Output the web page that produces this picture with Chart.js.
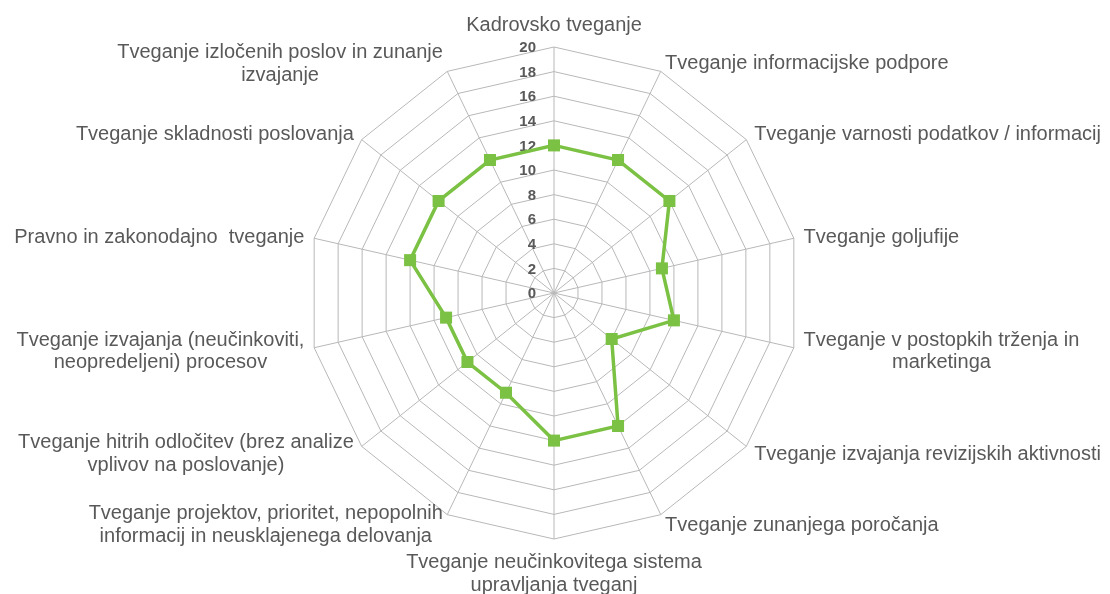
<!DOCTYPE html>
<html>
<head>
<meta charset="utf-8">
<script src="https://cdn.jsdelivr.net/npm/chart.js@4"></script>
<style>
    html, body { margin: 0; padding: 0; background: #ffffff; }
    #wrap { width: 1110px; height: 594px; position: relative; }
</style>
</head>
<body>
<div id="wrap"><canvas id="riskChart"></canvas></div>
<script>
// Categories (multi-line labels as arrays)
const categories = [
    ['Kadrovsko tveganje'],
    ['Tveganje informacijske podpore'],
    ['Tveganje varnosti podatkov / informacij'],
    ['Tveganje goljufije'],
    ['Tveganje v postopkih trženja in', 'marketinga'],
    ['Tveganje izvajanja revizijskih aktivnosti'],
    ['Tveganje zunanjega poročanja'],
    ['Tveganje neučinkovitega sistema', 'upravljanja tveganj'],
    ['Tveganje projektov, prioritet, nepopolnih', 'informacij in neusklajenega delovanja'],
    ['Tveganje hitrih odločitev (brez analize', 'vplivov na poslovanje)'],
    ['Tveganje izvajanja (neučinkoviti,', 'neopredeljeni) procesov'],
    ['Pravno in zakonodajno  tveganje'],
    ['Tveganje skladnosti poslovanja'],
    ['Tveganje izločenih poslov in zunanje', 'izvajanje']
];

const riskValues = [12, 12, 12, 9, 10, 6, 12, 12, 9, 9, 9, 12, 12, 12];

const tickValues = [0, 2, 4, 6, 8, 10, 12, 14, 16, 18, 20];

const textColor = '#595959';
const gridColor = '#b8b8b8';
const seriesColor = '#7bc143';

// Draws the tick numbers left of the vertical axis (incl. the 0)
const tickLabelPlugin = {
    id: 'tickLabels',
    beforeDatasetsDraw(chart) {
        const scale = chart.scales.r;
        const ctx = chart.ctx;
        ctx.save();
        ctx.font = 'bold 15px "Liberation Sans", Arial, sans-serif';
        ctx.fillStyle = textColor;
        ctx.textAlign = 'right';
        ctx.textBaseline = 'middle';
        tickValues.forEach(function(v) {
            const y = scale.yCenter - scale.getDistanceFromCenterForValue(v);
            ctx.fillText(String(v), scale.xCenter - 18, y + 1);
        });
        ctx.restore();
    }
};

// Draws the category labels around the outer ring
const pointLabelPlugin = {
    id: 'pointLabelsCustom',
    afterDraw(chart) {
        const scale = chart.scales.r;
        const ctx = chart.ctx;
        const lineHeight = 22.5;
        const n = categories.length;
        ctx.save();
        ctx.font = '20px "Liberation Sans", Arial, sans-serif';
        ctx.fillStyle = textColor;
        ctx.textAlign = 'center';
        ctx.textBaseline = 'alphabetic';
        categories.forEach(function(lines, i) {
            const pos = scale.getPointPosition(i, scale.drawingArea + 10);
            const blockW = Math.max.apply(null, lines.map(l => ctx.measureText(l).width));
            let cx, firstBase;
            if (i === 0) {
                cx = pos.x;
                firstBase = pos.y - 6 - (lines.length - 1) * lineHeight;
            } else if (i === n / 2) {
                cx = pos.x;
                firstBase = pos.y + 19;
            } else {
                cx = i < n / 2 ? pos.x + blockW / 2 : pos.x - blockW / 2;
                firstBase = pos.y - (lines.length - 1) * lineHeight / 2 + 7;
            }
            lines.forEach(function(line, k) {
                ctx.fillText(line, cx, firstBase + k * lineHeight);
            });
        });
        ctx.restore();
    }
};

const ctx = document.getElementById('riskChart').getContext('2d');
const riskChart = new Chart(ctx, {
    type: 'radar',
    data: {
        labels: categories,
        datasets: [{
            data: riskValues,
            borderColor: seriesColor,
            backgroundColor: seriesColor,
            borderWidth: 3.5,
            fill: false,
            tension: 0,
            pointStyle: 'rect',
            pointRadius: 8.5,
            pointBorderWidth: 0,
            pointBackgroundColor: seriesColor
        }]
    },
    options: {
        responsive: true,
        maintainAspectRatio: false,
        animation: false,
        layout: {
            padding: { top: 47, bottom: 55, left: 0, right: 2 }
        },
        plugins: {
            legend: { display: false },
            tooltip: { enabled: false }
        },
        scales: {
            r: {
                min: 0,
                max: 20,
                beginAtZero: true,
                ticks: { stepSize: 2, display: false },
                pointLabels: { display: false },
                grid: { color: gridColor, lineWidth: 1 },
                angleLines: { color: gridColor, lineWidth: 1 }
            }
        }
    },
    plugins: [tickLabelPlugin, pointLabelPlugin]
});
</script>
</body>
</html>
